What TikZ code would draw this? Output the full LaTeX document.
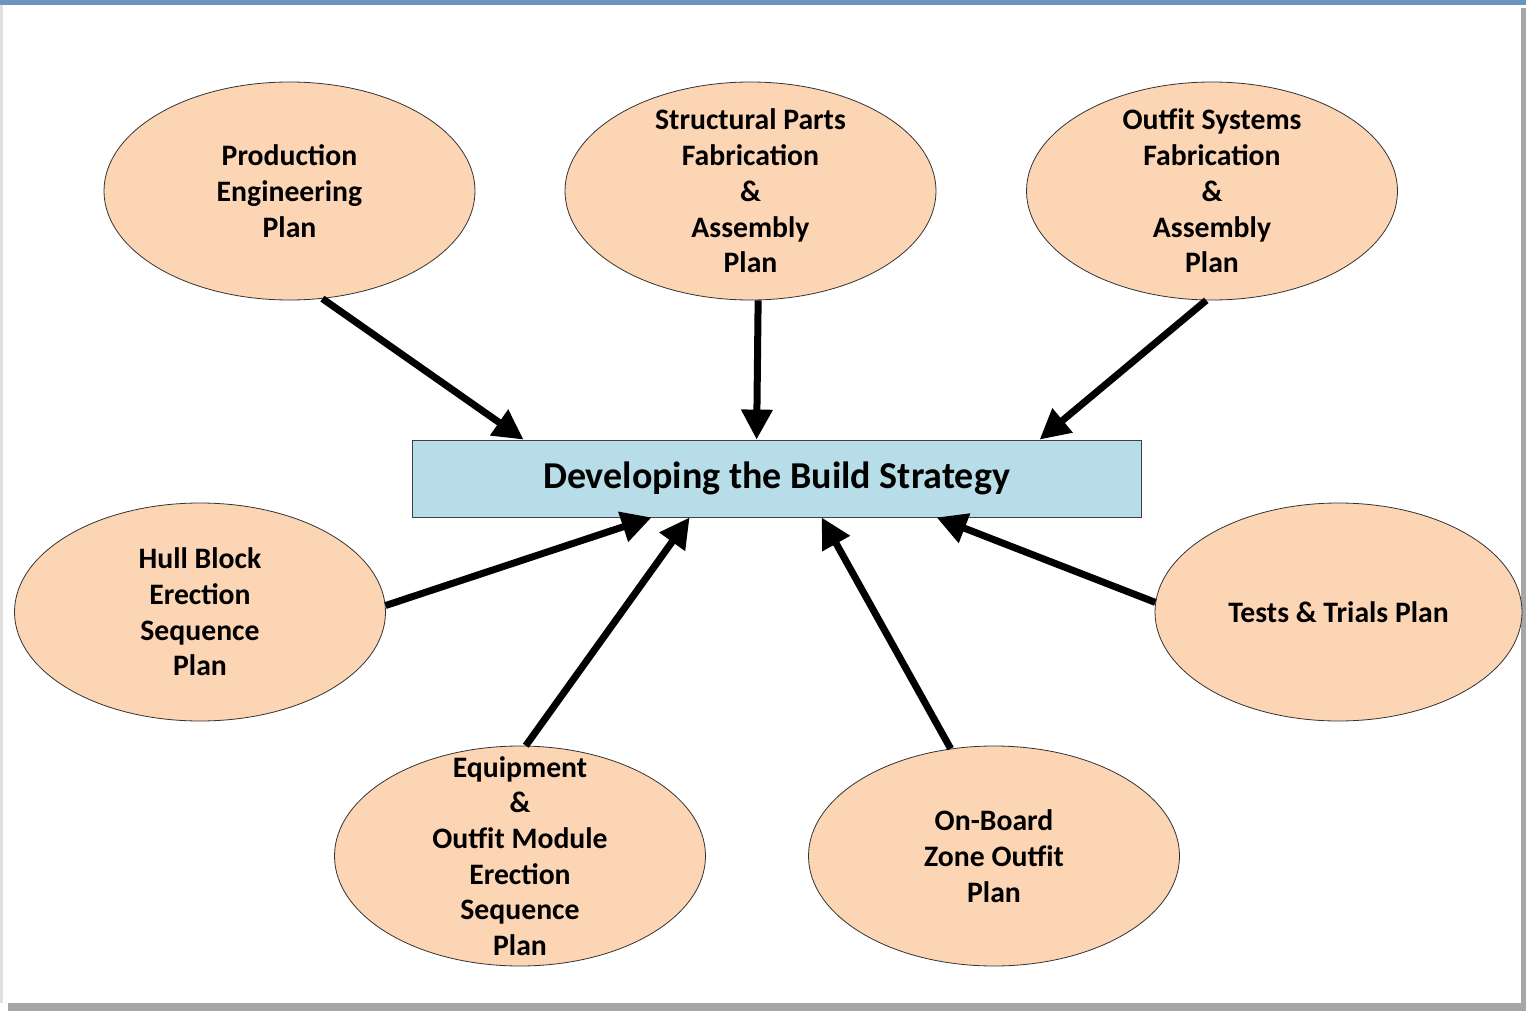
\documentclass[tikz,border=0pt]{standalone}
\usepackage{fontspec}
\setmainfont{Carlito}
\usetikzlibrary{shapes.geometric,arrows.meta,calc}
\definecolor{peach}{HTML}{FCD5B5}
\definecolor{paleblue}{HTML}{B7DEE8}
\definecolor{barblue}{HTML}{6B95BD}

\begin{document}
\begin{tikzpicture}[x=1pt, y=-1pt,
  plan/.style={ellipse, draw=black!80, fill=peach, line width=0.8pt,
    minimum width=371pt, minimum height=218pt, inner sep=0pt},
  plantext/.style={align=center, inner sep=0pt,
    font=\fontsize{29.7}{35.7}\selectfont\bfseries},
  feed/.style={line width=7pt, -{Triangle[length=30pt,width=30pt]}}]
  \useasboundingbox (0,0) rectangle (1526,1011);
  \fill[black!35] (8,8) rectangle (1526,1011);
  \fill[black!12] (0,0) rectangle (1521,1003);
  \fill[white] (3,0) rectangle (1521,1003);
  \fill[barblue] (0,0) rectangle (1526,5);

  \node[draw=black!75, fill=paleblue, line width=0.8pt,
    minimum width=729pt, minimum height=77pt,
    font=\fontsize{38}{45}\selectfont\bfseries] (bs) at (776.5,478.5)
    {Developing the Build Strategy};

  \node[plan] (pep) at (289.5,191) {};
  \node[plantext] (pep-t) at (pep) {Production\\Engineering\\Plan};
  \node[plan] (spf) at (750.5,191) {};
  \node[plantext] (spf-t) at (spf) {Structural Parts\\Fabrication\\\&\\Assembly\\Plan};
  \node[plan] (osf) at (1212,191) {};
  \node[plantext] (osf-t) at (osf) {Outfit Systems\\Fabrication\\\&\\Assembly\\Plan};
  \node[plan] (hbe) at (200,612) {};
  \node[plantext] (hbe-t) at (hbe) {Hull Block\\Erection\\Sequence\\Plan};
  \node[plan, minimum width=367pt] (ttp) at (1338.5,612) {};
  \node[plantext] (ttp-t) at (ttp) {Tests \& Trials Plan};
  \node[plan, minimum height=220pt] (eom) at (520,856) {};
  \node[plantext] (eom-t) at (eom) {Equipment\\\&\\Outfit Module\\Erection\\Sequence\\Plan};
  \node[plan, minimum height=220pt] (obz) at (994,856) {};
  \node[plantext] (obz-t) at (obz) {On-Board\\Zone Outfit\\Plan};

  \draw[feed] (pep.-73) -- ($(bs.north west)+(112,0)$);
  \draw[feed] (spf.-86.6) -- ($(bs.north west)+(345,0)$);
  \draw[feed] (osf.-93.7) -- ($(bs.north west)+(628,0)$);
  \draw[feed] (hbe.2) -- ($(bs.south west)+(240,0)$);
  \draw[feed] (eom.87.4) -- ($(bs.south west)+(278,0)$);
  \draw[feed] (obz.112.7) -- ($(bs.south west)+(410,0)$);
  \draw[feed] (ttp.177.8) -- ($(bs.south west)+(525,0)$);
\end{tikzpicture}
\end{document}
